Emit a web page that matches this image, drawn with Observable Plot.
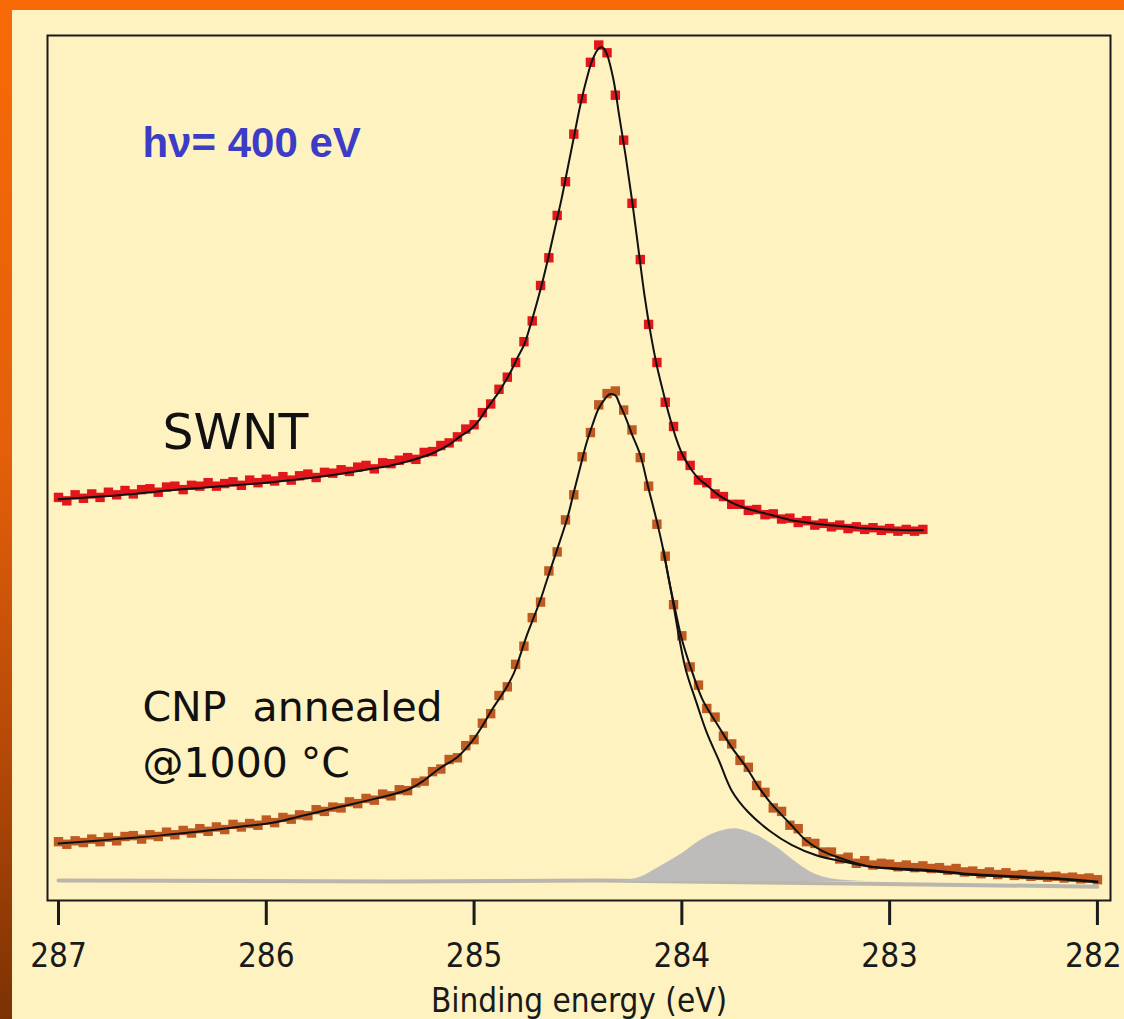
<!DOCTYPE html>
<html>
<head>
<meta charset="utf-8">
<script src="https://cdn.jsdelivr.net/npm/d3@7"></script>
<script src="https://cdn.jsdelivr.net/npm/@observablehq/plot@0.6"></script>
<style>
  html, body { margin: 0; padding: 0; background: #FDF2C0; }
  #page { position: relative; width: 1124px; height: 1019px; background: #FDF2C0; overflow: hidden; }
  #band-top { position: absolute; left: 0; top: 0; width: 1124px; height: 10px; background: #F86A06; }
  #band-left { position: absolute; left: 0; top: 0; width: 12px; height: 1019px;
    background: linear-gradient(#F86A06 0%, #E35F0A 45%, #B34807 75%, #7C3204 100%); }
  #chart { position: absolute; left: 12px; top: 10px; width: 1112px; }
</style>
</head>
<body>
<div id="page">
  <div id="band-top"></div>
  <div id="band-left"></div>
  <div id="chart"></div>
</div>
<script>
// C 1s photoemission spectra, binding energy in eV, intensity in arbitrary units.

// Measurement grid shared by both spectra (SWNT stops at 282.84 eV).
const energy = [
  287.00, 286.96, 286.92, 286.88, 286.84, 286.80, 286.76, 286.72, 286.68, 286.64,
  286.60, 286.56, 286.52, 286.48, 286.44, 286.40, 286.36, 286.32, 286.28, 286.24,
  286.20, 286.16, 286.12, 286.08, 286.04, 286.00, 285.96, 285.92, 285.88, 285.84,
  285.80, 285.76, 285.72, 285.68, 285.64, 285.60, 285.56, 285.52, 285.48, 285.44,
  285.40, 285.36, 285.32, 285.28, 285.24, 285.20, 285.16, 285.12, 285.08, 285.04,
  285.00, 284.96, 284.92, 284.88, 284.84, 284.80, 284.76, 284.72, 284.68, 284.64,
  284.60, 284.56, 284.52, 284.48, 284.44, 284.40, 284.36, 284.32, 284.28, 284.24,
  284.20, 284.16, 284.12, 284.08, 284.04, 284.00, 283.96, 283.92, 283.88, 283.84,
  283.80, 283.76, 283.72, 283.68, 283.64, 283.60, 283.56, 283.52, 283.48, 283.44,
  283.40, 283.36, 283.32, 283.28, 283.24, 283.20, 283.16, 283.12, 283.08, 283.04,
  283.00, 282.96, 282.92, 282.88, 282.84, 282.80, 282.76, 282.72, 282.68, 282.64,
  282.60, 282.56, 282.52, 282.48, 282.44, 282.40, 282.36, 282.32, 282.28, 282.24,
  282.20, 282.16, 282.12, 282.08, 282.04, 282.00
];

// SWNT measured intensity
const swntCounts = [
  46.6, 46.2, 46.9, 46.5, 47.0, 46.6, 47.2, 46.9, 47.4, 47.0,
  47.5, 47.6, 47.2, 47.8, 47.9, 47.5, 48.0, 47.9, 48.3, 47.9,
  48.2, 48.4, 48.0, 48.6, 48.3, 48.7, 48.5, 49.0, 48.6, 49.1,
  49.3, 48.9, 49.5, 49.4, 49.8, 49.6, 50.1, 50.3, 49.9, 50.6,
  50.5, 50.9, 51.2, 51.0, 51.8, 51.9, 52.6, 52.9, 53.6, 54.5,
  55.0, 56.4, 57.4, 59.1, 60.5, 62.2, 64.6, 67.0, 71.1, 74.3,
  79.2, 83.1, 88.6, 92.7, 96.9, 98.9, 98.0, 93.1, 87.9, 80.6,
  74.1, 66.6, 62.2, 57.6, 54.8, 51.4, 50.3, 48.6, 48.3, 47.0,
  46.7, 45.8, 45.8, 45.1, 45.2, 44.6, 44.7, 44.1, 44.2, 43.7,
  43.9, 43.4, 43.6, 43.2, 43.4, 43.0, 43.2, 42.9, 43.1, 42.8,
  43.0, 42.7, 42.9, 42.7, 42.9
];

// CNP annealed at 1000 °C, measured intensity
const cnpCounts = [
  6.8, 6.5, 6.9, 6.7, 7.1, 6.8, 7.3, 6.9, 7.4, 7.5,
  7.1, 7.6, 7.4, 7.9, 7.6, 8.1, 7.8, 8.3, 8.0, 8.5,
  8.2, 8.8, 8.5, 8.9, 8.7, 9.3, 9.0, 9.6, 9.4, 9.9,
  9.8, 10.5, 10.3, 10.8, 10.7, 11.4, 11.2, 11.8, 11.6, 12.3,
  12.1, 12.8, 12.7, 13.6, 13.8, 14.9, 15.2, 16.3, 16.5, 17.9,
  18.6, 20.5, 21.6, 23.7, 24.7, 27.3, 29.4, 32.7, 34.5, 38.1,
  40.3, 44.0, 46.9, 51.3, 54.1, 57.3, 58.6, 58.9, 56.7, 54.4,
  51.2, 47.9, 43.5, 39.8, 34.2, 30.6, 27.0, 24.9, 22.2, 21.2,
  19.0, 18.1, 16.2, 15.4, 13.3, 12.5, 10.7, 10.3, 8.7, 8.3,
  6.8, 6.6, 5.6, 5.6, 4.8, 5.0, 4.3, 4.6, 4.1, 4.3,
  4.2, 3.9, 4.1, 3.8, 4.0, 3.7, 3.8, 3.5, 3.7, 3.3,
  3.4, 3.1, 3.3, 3.0, 3.2, 2.9, 3.0, 2.8, 2.9, 2.7,
  2.8, 2.6, 2.7, 2.5, 2.6, 2.4
];

// SWNT line-shape fit
const swntFitEnergy = [
  287.00, 286.80, 286.64, 286.48, 286.32, 286.16, 286.00, 285.84, 285.68, 285.52,
  285.40, 285.30, 285.20, 285.12, 285.07, 285.02, 284.98, 284.94, 284.91, 284.88,
  284.85, 284.82, 284.79, 284.76, 284.73, 284.70, 284.67, 284.64, 284.61, 284.58,
  284.55, 284.52, 284.49, 284.46, 284.43, 284.40, 284.38, 284.36, 284.33, 284.30,
  284.27, 284.24, 284.21, 284.18, 284.15, 284.12, 284.09, 284.06, 284.03, 284.00,
  283.96, 283.92, 283.88, 283.82, 283.76, 283.70, 283.64, 283.56, 283.48, 283.40,
  283.30, 283.20, 283.10, 283.00, 282.90, 282.84
];
const swntFitCounts = [
  46.4, 46.7, 47.0, 47.4, 47.7, 48.0, 48.3, 48.7, 49.2, 49.8,
  50.3, 50.9, 51.7, 52.7, 53.6, 54.4, 55.4, 56.8, 57.8, 58.8,
  60.0, 61.3, 62.8, 64.2, 66.4, 68.9, 71.6, 74.6, 77.8, 81.0,
  84.6, 88.2, 91.8, 94.8, 97.2, 98.5, 98.6, 97.8, 95.0, 90.5,
  86.0, 81.0, 75.5, 70.0, 65.5, 61.8, 58.8, 56.0, 53.6, 51.7,
  50.0, 48.8, 48.0, 46.8, 46.0, 45.4, 45.0, 44.5, 44.0, 43.7,
  43.4, 43.2, 43.0, 42.9, 42.8, 42.8
];

// CNP total fit (main component + low-energy shoulder)
const cnpFitEnergy = [
  287.00, 286.80, 286.61, 286.44, 286.28, 286.12, 285.97, 285.80, 285.65, 285.48,
  285.32, 285.24, 285.17, 285.08, 285.01, 284.97, 284.91, 284.85, 284.81, 284.78,
  284.75, 284.71, 284.68, 284.65, 284.60, 284.55, 284.52, 284.49, 284.46, 284.43,
  284.40, 284.37, 284.35, 284.32, 284.30, 284.27, 284.24, 284.20, 284.16, 284.12,
  284.09, 284.06, 284.03, 284.00, 283.95, 283.90, 283.82, 283.76, 283.69, 283.63,
  283.57, 283.48, 283.40, 283.33, 283.25, 283.11, 282.96, 282.80, 282.63, 282.48,
  282.32, 282.15, 282.00
];
const cnpFitCounts = [
  6.6, 6.95, 7.3, 7.7, 8.1, 8.55, 9.0, 9.95, 10.8, 11.75,
  12.8, 13.9, 15.2, 16.6, 18.4, 19.8, 22.2, 24.4, 26.2, 28.2,
  30.4, 32.9, 34.8, 37.0, 40.6, 44.3, 47.2, 50.0, 52.8, 55.0,
  56.9, 58.0, 58.5, 58.4, 57.4, 55.8, 53.9, 51.5, 47.6, 43.8,
  40.6, 36.8, 33.4, 30.2, 26.4, 23.2, 20.0, 17.7, 15.4, 13.1,
  11.2, 8.9, 6.9, 5.8, 5.0, 4.0, 3.7, 3.5, 3.1, 2.9,
  2.7, 2.5, 2.2
];

// CNP main component alone, where it leaves the total fit
const cnpMainEnergy = [
  284.09, 284.05, 284.01, 283.98, 283.93, 283.88, 283.82, 283.76, 283.68, 283.58,
  283.47, 283.35, 283.24, 283.09, 282.96, 282.80, 282.63, 282.48, 282.32, 282.15, 282.00
];
const cnpMainCounts = [
  40.6, 35.5, 30.0, 26.6, 22.9, 19.4, 16.1, 12.7, 10.2, 8.1,
  6.4, 5.2, 4.6, 3.9, 3.6, 3.4, 3.0, 2.8, 2.6, 2.4, 2.1
];

// CNP low-binding-energy shoulder component
const shoulderEnergy = [
  284.30, 284.20, 284.10, 284.00, 283.92, 283.86, 283.80, 283.75, 283.70, 283.62,
  283.54, 283.46, 283.38, 283.30, 283.20, 283.12
];
const shoulderCounts = [
  2.2, 2.7, 4.0, 5.4, 6.8, 7.6, 8.1, 8.3, 8.1, 7.3,
  6.1, 4.6, 3.3, 2.6, 2.3, 2.2
];
const shoulderFloor = 2.2;

// Background under the CNP spectrum
const backgroundEnergy = [287.00, 285.40, 284.40, 283.30, 282.00];
const backgroundCounts = [2.3, 2.2, 2.3, 2.0, 1.6];

const xTicks = [287, 286, 285, 284, 283, 282];

const pairs = (xs, ys) => ys.map((y, i) => ({E: xs[i], I: y}));
const swnt = pairs(energy, swntCounts);
const cnp = pairs(energy, cnpCounts);
const swntFit = pairs(swntFitEnergy, swntFitCounts);
const cnpFit = pairs(cnpFitEnergy, cnpFitCounts);
const cnpMain = pairs(cnpMainEnergy, cnpMainCounts);
const shoulder = pairs(shoulderEnergy, shoulderCounts);
const background = pairs(backgroundEnergy, backgroundCounts);

const axisFont = "'Liberation Sans Narrow', 'DejaVu Sans Condensed', 'Liberation Sans', sans-serif";
const noteFont = "'DejaVu Sans', sans-serif";

const chart = Plot.plot({
  width: 1112,
  height: 1009,
  marginLeft: 35,
  marginRight: 14,
  marginTop: 25,
  marginBottom: 119,
  style: {background: "transparent", maxWidth: "none", overflow: "visible"},
  x: {domain: [287.053, 281.937], axis: null},
  y: {domain: [0, 100], axis: null},
  marks: [
    Plot.line(background, {x: "E", y: "I", stroke: "#BAB6AB", strokeWidth: 4}),
    Plot.areaY(shoulder, {x: "E", y1: shoulderFloor, y2: "I", fill: "#BDBCBA", curve: "catmull-rom"}),
    Plot.dot(swnt, {x: "E", y: "I", symbol: "square", r: 5.3, fill: "#E3161B"}),
    Plot.dot(cnp, {x: "E", y: "I", symbol: "square", r: 5.3, fill: "#BE5A22"}),
    Plot.line(swntFit, {x: "E", y: "I", stroke: "#111", strokeWidth: 2, curve: "catmull-rom"}),
    Plot.line(cnpFit, {x: "E", y: "I", stroke: "#111", strokeWidth: 2, curve: "catmull-rom"}),
    Plot.line(cnpMain, {x: "E", y: "I", stroke: "#111", strokeWidth: 2, curve: "catmull-rom"}),
    Plot.frame({stroke: "#1a1a1a", strokeWidth: 2}),
    Plot.axisX({
      ticks: xTicks,
      tickFormat: d => String(d),
      tickSize: 25,
      tickPadding: 18,
      strokeWidth: 3,
      color: "#1a1a1a",
      fontSize: 33,
      fontFamily: axisFont,
      label: null
    }),
    Plot.text(["Binding energy (eV)"], {
      text: d => d, frameAnchor: "bottom", lineAnchor: "top", dy: 88,
      fontSize: 33, fontFamily: axisFont, fill: "#1a1a1a"
    }),
    Plot.text(["hν= 400 eV"], {
      text: d => d, x: 286.596, y: 85.9, textAnchor: "start", lineAnchor: "bottom",
      fontSize: 42, fontWeight: "bold", fontFamily: "'Liberation Sans', sans-serif", fill: "#3C3CC6"
    }),
    Plot.text(["SWNT"], {
      text: d => d, x: 286.50, y: 52.25, textAnchor: "start", lineAnchor: "bottom",
      fontSize: 49, fontFamily: noteFont, fill: "#111"
    }),
    Plot.text(["CNP  annealed\n@1000 °C"], {
      text: d => d, x: 286.596, y: 14.22, textAnchor: "start", lineAnchor: "bottom",
      lineHeight: 1.39, fontSize: 41, fontFamily: noteFont, fill: "#111"
    })
  ]
});

// The rightmost tick label sits against the page edge; nudge it inward a little.
const tickLabels = d3.select(chart).selectAll('g[aria-label="x-axis tick label"] text');
tickLabels.filter((d, i, nodes) => i === nodes.length - 1).attr("dx", -4);

document.getElementById("chart").appendChild(chart);
</script>
</body>
</html>
